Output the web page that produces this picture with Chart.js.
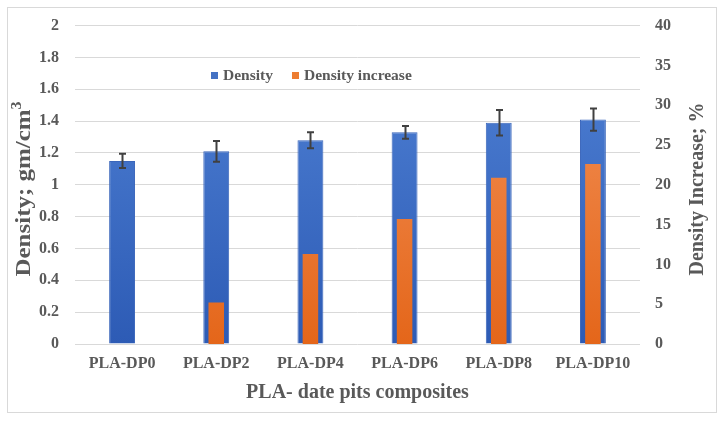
<!DOCTYPE html>
<html><head><meta charset="utf-8">
<script src="https://cdn.jsdelivr.net/npm/chart.js@4"></script>
<style>html,body{margin:0;padding:0;background:#fff}#wrap{width:724px;height:423px;position:relative}</style>
</head><body><div id="wrap"><canvas id="c" width="724" height="423"></canvas></div>
<script>
const categories = ['PLA-DP0', 'PLA-DP2', 'PLA-DP4', 'PLA-DP6', 'PLA-DP8', 'PLA-DP10'];
const density = [1.15, 1.21, 1.28, 1.33, 1.39, 1.41];
const densityError = [0.045, 0.065, 0.05, 0.04, 0.08, 0.07];
const densityIncrease = [0, 5.2, 11.3, 15.7, 20.9, 22.6];
const seriesNames = ['Density', 'Density increase'];
const xTitle = 'PLA- date pits composites';
const yTitle = 'Density; gm/cm';
const y1Title = 'Density Increase; %';

const FONT = '"Liberation Serif", "Times New Roman", serif';
const TXT = '#595959';

function grad(ctx, top, bottom) {
  const ca = ctx.chart.chartArea;
  if (!ca) return bottom;
  const g = ctx.chart.ctx.createLinearGradient(0, ca.top, 0, ca.bottom);
  g.addColorStop(0, top);
  g.addColorStop(1, bottom);
  return g;
}

const deco = {
  id: 'deco',
  beforeDraw(chart) {
    const c = chart.ctx;
    c.save();
    c.fillStyle = '#fff';
    c.fillRect(0, 0, chart.width, chart.height);
    c.strokeStyle = '#d9d9d9';
    c.lineWidth = 1;
    c.strokeRect(7.5, 7.5, 709, 405);
    c.restore();
  },
  afterDatasetsDraw(chart) {
    const c = chart.ctx;
    const meta = chart.getDatasetMeta(0);
    const ys = chart.scales.y;
    c.save();
    c.strokeStyle = '#404040';
    c.lineWidth = 2;
    meta.data.forEach((bar, i) => {
      const x = Math.round(bar.x) + 0.5;
      const yt = ys.getPixelForValue(density[i] + densityError[i]);
      const yb = ys.getPixelForValue(density[i] - densityError[i]);
      c.beginPath();
      c.moveTo(x, yt); c.lineTo(x, yb);
      c.moveTo(x - 3.5, yt); c.lineTo(x + 3.5, yt);
      c.moveTo(x - 3.5, yb); c.lineTo(x + 3.5, yb);
      c.stroke();
    });
    c.restore();
  },
  afterDraw(chart) {
    const c = chart.ctx;
    const ca = chart.chartArea;
    c.save();
    c.fillStyle = TXT;
    c.font = 'bold 20px ' + FONT;
    c.textAlign = 'center';
    c.textBaseline = 'middle';
    c.fillText(xTitle, (ca.left + ca.right) / 2, 393);
    // left title with superscript
    c.save();
    c.translate(24, 189);
    c.rotate(-Math.PI / 2);
    c.font = 'bold 22px ' + FONT;
    const w1 = c.measureText(yTitle).width;
    c.font = 'bold 14px ' + FONT;
    const w2 = c.measureText('3').width;
    const total = w1 + w2;
    c.scale(175 / total, 1);
    c.textAlign = 'left';
    c.font = 'bold 22px ' + FONT;
    c.fillText(yTitle, -total / 2, 0);
    c.font = 'bold 14px ' + FONT;
    c.fillText('3', -total / 2 + w1, -7);
    c.restore();
    // right title
    c.save();
    c.translate(698, 189);
    c.rotate(-Math.PI / 2);
    c.font = 'bold 20px ' + FONT;
    c.textAlign = 'center';
    c.fillText(y1Title, 0, 0);
    c.restore();
    // legend
    c.font = 'bold 15.5px ' + FONT;
    c.textAlign = 'left';
    c.textBaseline = 'middle';
    c.fillStyle = '#4472c4';
    c.fillRect(211, 72, 7, 7);
    c.fillStyle = TXT;
    c.fillText(seriesNames[0], 223, 76);
    c.fillStyle = '#ed7d31';
    c.fillRect(292, 72, 7, 7);
    c.fillStyle = TXT;
    c.fillText(seriesNames[1], 304, 76);
    c.restore();
  }
};

new Chart(document.getElementById('c'), {
  type: 'bar',
  data: {
    labels: categories,
    datasets: [
      {
        label: seriesNames[0],
        data: density,
        yAxisID: 'y',
        order: 1,
        grouped: false,
        categoryPercentage: 1,
        barPercentage: 0.275,
        backgroundColor: ctx => grad(ctx, '#5183d6', '#2d5bb5'),
        borderColor: '#3a66bb',
        borderWidth: 1
      },
      {
        label: seriesNames[1],
        data: densityIncrease,
        yAxisID: 'y1',
        order: 0,
        grouped: false,
        categoryPercentage: 1,
        barPercentage: 0.165,
        backgroundColor: ctx => grad(ctx, '#f4955e', '#e4661a'),
        borderWidth: 0
      }
    ]
  },
  options: {
    responsive: false,
    animation: false,
    devicePixelRatio: 1,
    layout: { padding: { top: 22, left: 0, right: 0, bottom: 0 } },
    plugins: { legend: { display: false }, tooltip: { enabled: false } },
    scales: {
      x: {
        grid: { display: false, drawTicks: false },
        border: { display: false },
        ticks: { color: TXT, font: { family: FONT, size: 16, weight: 'bold' }, padding: 10, maxRotation: 0 },
        afterFit: s => { s.height = 79; }
      },
      y: {
        position: 'left',
        min: 0, max: 2,
        ticks: { stepSize: 0.2, color: TXT, font: { family: FONT, size: 16, weight: 'bold' }, padding: 16,
                 callback: v => String(+v.toFixed(1)) },
        grid: { color: '#d9d9d9', drawTicks: false },
        border: { display: false },
        afterFit: s => { s.width = 75; }
      },
      y1: {
        position: 'right',
        min: 0, max: 40,
        ticks: { stepSize: 5, color: TXT, font: { family: FONT, size: 16, weight: 'bold' }, padding: 15 },
        grid: { display: false, drawTicks: false },
        border: { display: false },
        afterFit: s => { s.width = 84; }
      }
    }
  },
  plugins: [deco]
});
</script>
</body></html>
